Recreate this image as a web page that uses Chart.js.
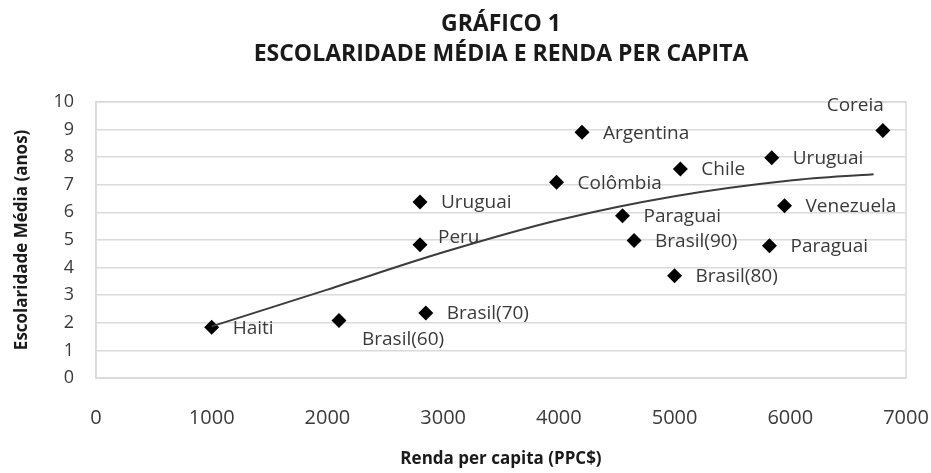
<!DOCTYPE html>
<html>
<head>
<meta charset="utf-8">
<script src="https://cdn.jsdelivr.net/npm/chart.js@4"></script>
<style>
    html, body { margin: 0; padding: 0; background: #fff; }
    #wrap { width: 931px; height: 473px; }
</style>
</head>
<body>
<div id="wrap"><canvas id="chart"></canvas></div>
<script>
const countries = ['Haiti', 'Brasil(60)', 'Brasil(70)', 'Peru', 'Uruguai', 'Colômbia', 'Argentina', 'Paraguai',
    'Brasil(90)', 'Brasil(80)', 'Chile', 'Uruguai', 'Paraguai', 'Venezuela', 'Coreia'];
const renda = [1000, 2100, 2850, 2800, 2800, 3980, 4200, 4550, 4650, 5000, 5050, 5840, 5820, 5950, 6800];
const escolaridade = [1.84, 2.08, 2.35, 4.82, 6.37, 7.09, 8.9, 5.87, 4.98, 3.7, 7.57, 7.97, 4.79, 6.24, 8.96];

// trend line
const trendX = [1000, 2000, 3000, 4000, 5000, 6000, 6720];
const trendY = [1.87, 3.2, 4.55, 5.72, 6.58, 7.15, 7.38];

const xTicks = [0, 1000, 2000, 3000, 4000, 5000, 6000, 7000];
const yTicks = [0, 1, 2, 3, 4, 5, 6, 7, 8, 9, 10];

// where each label sits relative to its point: r = right, br = below right, tr = above right, tl = above left
const labelAnchor = ['r', 'br', 'r', 'tr', 'r', 'r', 'r', 'r', 'r', 'r', 'r', 'r', 'r', 'r', 'tl'];

const colors = {
    text: '#3a3a3a',
    grid: '#d9d9de',
    line: '#3c3c3c',
    point: '#000000'
};

const FONT = "'Open Sans', sans-serif";

const pointLabels = {
    id: 'pointLabels',
    afterDatasetsDraw(chart) {
        const ctx = chart.ctx;
        const meta = chart.getDatasetMeta(1);
        ctx.save();
        ctx.font = '19px ' + FONT;
        ctx.fillStyle = colors.text;
        ctx.textBaseline = 'middle';
        meta.data.forEach((pt, i) => {
            let dx = 21, dy = 1, align = 'left';
            if (labelAnchor[i] === 'br') { dx = 23; dy = 19; }
            if (labelAnchor[i] === 'tr') { dx = 18; dy = -7; }
            if (labelAnchor[i] === 'tl') { dx = 1; dy = -25; align = 'right'; }
            ctx.textAlign = align;
            ctx.fillText(countries[i], pt.x + dx, pt.y + dy);
        });
        ctx.restore();
    }
};

const plotBorder = {
    id: 'plotBorder',
    beforeDatasetsDraw(chart) {
        const { ctx, chartArea: a } = chart;
        ctx.save();
        ctx.strokeStyle = colors.grid;
        ctx.lineWidth = 1.5;
        ctx.strokeRect(a.left, a.top, a.right - a.left, a.bottom - a.top);
        ctx.restore();
    }
};

new Chart(document.getElementById('chart'), {
    data: {
        datasets: [{
            type: 'line',
            data: trendX.map((x, i) => ({ x: x, y: trendY[i] })),
            borderColor: colors.line,
            borderWidth: 2,
            pointRadius: 0,
            cubicInterpolationMode: 'monotone',
            fill: false
        }, {
            type: 'scatter',
            data: renda.map((x, i) => ({ x: x, y: escolaridade[i] })),
            pointStyle: 'rectRot',
            pointRadius: 7.5,
            backgroundColor: colors.point,
            borderColor: colors.point,
            borderWidth: 0
        }]
    },
    options: {
        responsive: true,
        maintainAspectRatio: false,
        animation: false,
        layout: { padding: { left: 0, right: 25, top: 0, bottom: 0 } },
        plugins: {
            legend: { display: false },
            tooltip: { enabled: false },
            title: {
                display: true,
                fullSize: false,
                text: ['GRÁFICO 1', 'ESCOLARIDADE MÉDIA E RENDA PER CAPITA'],
                color: '#1a1a1a',
                font: { family: FONT, size: 23, weight: 'bold', lineHeight: 1.3 },
                padding: { top: 10, bottom: 32 }
            }
        },
        scales: {
            x: {
                type: 'linear',
                min: 0,
                max: 7000,
                afterBuildTicks: s => { s.ticks = xTicks.map(v => ({ value: v })); },
                afterFit: s => { s.height = 95; s.paddingLeft = 0; s.paddingRight = 0; },
                grid: { display: false },
                border: { color: colors.grid, width: 1.5 },
                ticks: {
                    color: colors.text,
                    font: { family: FONT, size: 20 },
                    padding: 20,
                    maxRotation: 0,
                    callback: v => String(v)
                },
                title: {
                    display: true,
                    text: 'Renda per capita (PPC$)',
                    color: '#1a1a1a',
                    font: { family: FONT, size: 17, weight: 'bold' },
                    padding: { top: 0, bottom: 4 }
                }
            },
            y: {
                type: 'linear',
                min: 0,
                max: 10,
                afterBuildTicks: s => { s.ticks = yTicks.map(v => ({ value: v })); },
                afterFit: s => { s.width = 96; },
                grid: { color: colors.grid, lineWidth: 1.5, drawTicks: false },
                border: { color: colors.grid, width: 1.5 },
                ticks: { color: colors.text, font: { family: FONT, size: 18 }, padding: 22, callback: v => String(v) },
                title: {
                    display: true,
                    text: 'Escolaridade Média (anos)',
                    color: '#1a1a1a',
                    font: { family: FONT, size: 17, weight: 'bold' },
                    padding: { top: 12, bottom: 0 }
                }
            }
        }
    },
    plugins: [plotBorder, pointLabels]
});
</script>
</body>
</html>
